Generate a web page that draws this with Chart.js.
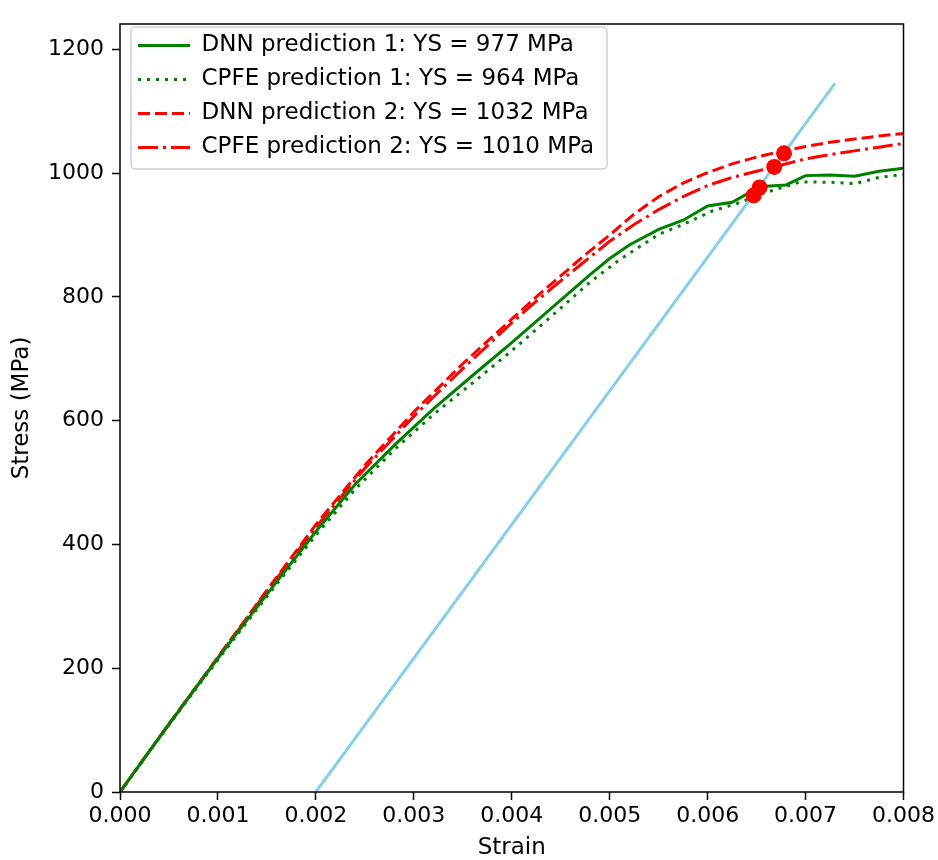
<!DOCTYPE html>
<html>
<head>
<meta charset="utf-8">
<script src="https://cdn.jsdelivr.net/npm/chart.js@4.4.1/dist/chart.umd.min.js"></script>
<style>
  html, body { margin: 0; padding: 0; background: #ffffff; }
</style>
</head>
<body>
<canvas id="graficoTensao" width="938" height="860"></canvas>
<script>
// valores (deformacao x tensao em MPa)
const strainDnn1 = [0, 0.0004, 0.0008, 0.0012, 0.0016, 0.002, 0.0024, 0.0028, 0.0032, 0.0036, 0.004, 0.0044, 0.0048, 0.005, 0.0052, 0.0055, 0.00575, 0.006, 0.00625, 0.0064, 0.0065, 0.0066, 0.0068, 0.007, 0.00725, 0.0075, 0.00775, 0.008];
const stressDnn1 = [0, 88, 174, 258, 340, 421, 497, 560, 619, 673, 726, 781, 836, 862, 884, 909, 924, 947, 953, 966, 975, 979, 981, 996, 997, 995, 1003, 1008];

const strainCpfe1 = [0, 0.0004, 0.0008, 0.0012, 0.0016, 0.002, 0.0024, 0.0028, 0.0032, 0.0036, 0.004, 0.0044, 0.0048, 0.0051, 0.0055, 0.00575, 0.00605, 0.0063, 0.0066, 0.00695, 0.0073, 0.0075, 0.00775, 0.008];
const stressCpfe1 = [0, 87, 172, 255, 336, 415, 489, 553, 610, 661, 713, 768, 824, 860, 901, 917, 939, 951, 969, 986, 985, 983, 993, 998];

const strainDnn2 = [0, 0.0005, 0.001, 0.0015, 0.002, 0.0025, 0.003, 0.00325, 0.0035, 0.00375, 0.004, 0.00425, 0.0045, 0.00475, 0.005, 0.00525, 0.0055, 0.00575, 0.006, 0.00625, 0.0065, 0.00675, 0.007, 0.00725, 0.0075, 0.00775, 0.008];
const stressDnn2 = [0, 110, 218, 326, 432, 528, 614, 653, 692, 728, 764, 800, 834, 868, 900, 934, 962, 984, 1001, 1015, 1026, 1035, 1043, 1050, 1055, 1060, 1064];

const strainCpfe2 = [0, 0.0005, 0.001, 0.0015, 0.002, 0.0025, 0.003, 0.00325, 0.0035, 0.00375, 0.004, 0.00425, 0.0045, 0.00475, 0.005, 0.00525, 0.0055, 0.00575, 0.006, 0.00625, 0.0065, 0.00675, 0.007, 0.00725, 0.0075, 0.00775, 0.008];
const stressCpfe2 = [0, 110, 217, 324, 428, 523, 607, 646, 684, 721, 758, 793, 826, 858, 890, 917, 941, 962, 980, 993, 1003, 1013, 1023, 1030, 1036, 1042, 1048];

// reta de offset 0.2%
const offsetStrain = [0.002, 0.0073];
const offsetStress = [0, 1145];

// pontos de escoamento
const ysStrain = [0.00647, 0.00653, 0.00668, 0.00678];
const ysStress = [964, 977, 1010, 1032];

const legendas = [
    "DNN prediction 1: YS = 977 MPa",
    "CPFE prediction 1: YS = 964 MPa",
    "DNN prediction 2: YS = 1032 MPa",
    "CPFE prediction 2: YS = 1010 MPa"
];

const xTicks = [0, 0.001, 0.002, 0.003, 0.004, 0.005, 0.006, 0.007, 0.008];
const yTicks = [0, 200, 400, 600, 800, 1000, 1200];

const fonte = "'DejaVu Sans', sans-serif";
const fonteLegenda = 23;

function pares(xs, ys) {
    return xs.map((x, i) => ({ x: x, y: ys[i] }));
}

function curva(label, xs, ys, cor, dash) {
    return {
        label: label,
        data: pares(xs, ys),
        showLine: true,
        borderColor: cor,
        backgroundColor: cor,
        borderWidth: 3,
        borderDash: dash,
        pointRadius: 0,
        tension: 0,
        fill: false
    };
}

// caixa dos eixos e moldura da legenda no estilo matplotlib
const moldura = {
    id: 'moldura',
    afterLayout(chart) {
        const lg = chart.legend;
        const a = chart.chartArea;
        lg.left = a.left + 7;
        lg.top = a.top - 1;
        lg.right = a.right;
        lg.bottom = a.bottom;
    },
    afterDraw(chart) {
        const ctx = chart.ctx;
        const a = chart.chartArea;
        const lg = chart.legend;
        const opts = lg.options.labels;
        ctx.save();

        ctx.font = fonteLegenda + "px " + fonte;
        let maior = 0;
        lg.legendItems.forEach(item => {
            maior = Math.max(maior, ctx.measureText(item.text).width);
        });
        const inicioTexto = lg.left + opts.padding + opts.pointStyleWidth + fonteLegenda / 2;
        const x0 = lg.left + 4;
        const y0 = lg.top + 4;
        const x1 = inicioTexto + maior + 13;
        const y1 = lg.top + opts.padding + lg.legendItems.length * (fonteLegenda + opts.padding) - opts.padding + 10;
        ctx.strokeStyle = '#d0d0d0';
        ctx.lineWidth = 1.5;
        ctx.beginPath();
        ctx.roundRect(x0, y0, x1 - x0, y1 - y0, 4);
        ctx.stroke();

        ctx.strokeStyle = '#000000';
        ctx.lineWidth = 1.5;
        ctx.strokeRect(a.left, a.top, a.right - a.left, a.bottom - a.top);
        ctx.restore();
    }
};

function gerarGrafico() {
    const ctx = document.getElementById('graficoTensao').getContext('2d');
    new Chart(ctx, {
        type: 'scatter',
        data: {
            datasets: [
                {
                    label: 'YS',
                    data: pares(ysStrain, ysStress),
                    showLine: false,
                    pointRadius: 8,
                    pointBackgroundColor: '#ff0000',
                    pointBorderWidth: 0,
                    borderColor: '#ff0000'
                },
                {
                    label: 'offset',
                    data: pares(offsetStrain, offsetStress),
                    showLine: true,
                    borderColor: '#87ceeb',
                    borderWidth: 3,
                    pointRadius: 0
                },
                curva(legendas[0], strainDnn1, stressDnn1, '#008000', []),
                curva(legendas[1], strainCpfe1, stressCpfe1, '#008000', [3, 6]),
                curva(legendas[2], strainDnn2, stressDnn2, '#ff0000', [12, 5]),
                curva(legendas[3], strainCpfe2, stressCpfe2, '#ff0000', [20, 5, 3, 5])
            ]
        },
        options: {
            responsive: false,
            animation: false,
            events: [],
            layout: {
                padding: { top: 24, right: 34, left: 0, bottom: 0 }
            },
            plugins: {
                tooltip: { enabled: false },
                legend: {
                    display: true,
                    position: 'chartArea',
                    align: 'start',
                    labels: {
                        usePointStyle: true,
                        pointStyle: 'line',
                        pointStyleWidth: 52,
                        padding: 11,
                        color: '#000000',
                        font: { family: fonte, size: fonteLegenda },
                        filter: item => item.datasetIndex >= 2,
                        generateLabels: chart => {
                            const itens = Chart.defaults.plugins.legend.labels.generateLabels(chart);
                            itens.forEach(item => {
                                const ds = chart.data.datasets[item.datasetIndex];
                                item.lineDash = ds.borderDash;
                                item.lineWidth = ds.borderWidth;
                                item.strokeStyle = ds.borderColor;
                            });
                            return itens;
                        }
                    }
                }
            },
            scales: {
                x: {
                    type: 'linear',
                    min: 0,
                    max: 0.008,
                    afterFit: scale => { scale.height = 68; },
                    afterBuildTicks: scale => { scale.ticks = xTicks.map(v => ({ value: v })); },
                    ticks: {
                        color: '#000000',
                        padding: 3,
                        maxRotation: 0,
                        autoSkip: false,
                        font: { family: fonte, size: 22 },
                        callback: value => value.toFixed(3)
                    },
                    grid: {
                        drawOnChartArea: false,
                        drawTicks: true,
                        tickLength: 8,
                        tickColor: '#000000',
                        tickWidth: 1.5
                    },
                    border: { display: false },
                    title: {
                        display: true,
                        text: 'Strain',
                        color: '#000000',
                        padding: { top: 0, bottom: 0 },
                        font: { family: fonte, size: 23, lineHeight: 1 }
                    }
                },
                y: {
                    type: 'linear',
                    min: 0,
                    max: 1241,
                    afterFit: scale => { scale.width = 120; },
                    afterBuildTicks: scale => { scale.ticks = yTicks.map(v => ({ value: v })); },
                    ticks: {
                        color: '#000000',
                        padding: 8,
                        autoSkip: false,
                        font: { family: fonte, size: 22 },
                        callback: value => String(value)
                    },
                    grid: {
                        drawOnChartArea: false,
                        drawTicks: true,
                        tickLength: 8,
                        tickColor: '#000000',
                        tickWidth: 1.5
                    },
                    border: { display: false },
                    title: {
                        display: true,
                        text: 'Stress (MPa)',
                        color: '#000000',
                        padding: { top: 11, bottom: 0 },
                        font: { family: fonte, size: 23, lineHeight: 1 }
                    }
                }
            }
        },
        plugins: [moldura]
    });
}

gerarGrafico();
</script>
</body>
</html>
